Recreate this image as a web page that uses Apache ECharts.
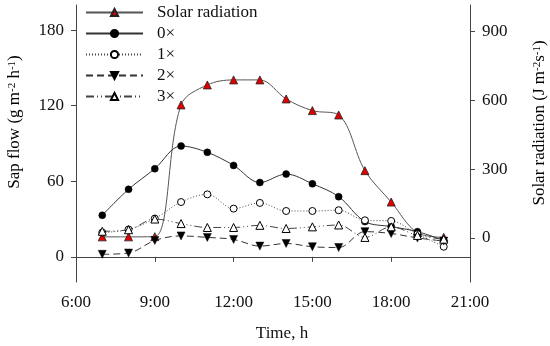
<!DOCTYPE html>
<html><head><meta charset="utf-8">
<script src="https://cdn.jsdelivr.net/npm/echarts@6/dist/echarts.min.js"></script>
<style>html,body{margin:0;padding:0;background:#fff}#c{width:550px;height:346px}</style>
</head><body><div id="c"></div>
<script>
var hours = [7, 8, 9, 10, 11, 12, 13, 14, 15, 16, 17, 18, 19, 20];
var solar = [4, 4, 5, 580, 667, 689, 689, 606, 555, 536, 293, 156, 22, 2];
var sap0 = [33, 53.6, 70, 88, 83, 72.6, 59, 65.7, 58, 47.8, 28, 24, 20, 13];
var sap1 = [19.3, 21.7, 30.4, 43.5, 49.6, 38.3, 42.8, 36.4, 36.4, 37, 29, 28.5, 18, 8];
var sap2 = [2, 3, 13, 16.6, 15.4, 13.8, 8.5, 10.6, 8, 7.4, 20, 18.5, 15, 12.5];
var sap3 = [20.3, 21.5, 30, 26.4, 23.3, 23.3, 25, 22.5, 23.8, 25.3, 15.4, 23.8, 17, 14];
var seriesNames = ['Solar radiation', '0\u00d7', '1\u00d7', '2\u00d7', '3\u00d7'];
var xTicks = [6, 9, 12, 15, 18, 21];
var leftTicks = [0, 60, 120, 180];
var rightTicks = [0, 300, 600, 900];

var FONT = '"Liberation Serif", serif';
function pairs(v) { return hours.map(function (h, i) { return [h, v[i]]; }); }
var axisCol = '#444';
var chart = echarts.init(document.getElementById('c'));
var rich = { n: { fontSize: 17, fontFamily: FONT, color: '#111' }, s: { fontSize: 11, fontFamily: FONT, color: '#111', verticalAlign: 'top', padding: [0, 0, 6, 0] } };
chart.setOption({
  animation: false,
  grid: { left: 76, right: 80, top: 5, bottom: 64 },
  legend: {
    left: 85, top: 4, padding: 0, orient: 'vertical', itemWidth: 57, itemHeight: 9, itemGap: 4,
    data: seriesNames,
    textStyle: { fontFamily: FONT, fontSize: 17, color: '#111', padding: [0, 0, 0, 9] }
  },
  xAxis: {
    type: 'value', min: 6, max: 21, interval: 3,
    axisLine: { lineStyle: { color: axisCol } },
    axisTick: { length: 5, lineStyle: { color: axisCol } },
    splitLine: { show: false },
    axisLabel: { margin: 12, fontFamily: FONT, fontSize: 17, color: '#111', formatter: function (v) { return v + ':00'; } }
  },
  yAxis: [{
    type: 'value', min: -20, max: 200,
    axisLine: { show: true, lineStyle: { color: axisCol } },
    axisTick: { show: true, length: 5, lineStyle: { color: axisCol }, customValues: leftTicks },
    splitLine: { show: false },
    axisLabel: { margin: 12, fontFamily: FONT, fontSize: 17, color: '#111', customValues: leftTicks }
  }, {
    type: 'value', min: -193, max: 1016, position: 'right',
    axisLine: { show: true, lineStyle: { color: axisCol } },
    axisTick: { show: true, length: 5, lineStyle: { color: axisCol }, customValues: rightTicks },
    splitLine: { show: false },
    axisLabel: { margin: 12, fontFamily: FONT, fontSize: 17, color: '#111', customValues: rightTicks }
  }],
  graphic: [
    { type: 'text', x: 15, y: 122, rotation: Math.PI / 2, style: { text: '{n|Sap flow (g m}{s|-2}{n| h}{s|-1}{n|)}', rich: rich, align: 'center', verticalAlign: 'middle' } },
    { type: 'text', x: 540, y: 123, rotation: Math.PI / 2, style: { text: '{n|Solar radiation (J m}{s|-2}{n|s}{s|-1}{n|)}', rich: rich, align: 'center', verticalAlign: 'middle' } },
    { type: 'text', x: 282, y: 334, style: { text: 'Time, h', font: '17px ' + FONT, fill: '#111', align: 'center', verticalAlign: 'middle' } }
  ],
  series: [
    { name: seriesNames[0], type: 'line', yAxisIndex: 1, data: pairs(solar), smooth: 0.35,
      symbol: 'triangle', symbolSize: 8, lineStyle: { color: '#555', width: 1 },
      itemStyle: { color: '#e00000', borderColor: '#222', borderWidth: 0.8 } },
    { name: seriesNames[1], type: 'line', data: pairs(sap0), smooth: 0.35,
      symbol: 'circle', symbolSize: 7, lineStyle: { color: '#333', width: 1 },
      itemStyle: { color: '#000', borderColor: '#000', borderWidth: 0.5 } },
    { name: seriesNames[2], type: 'line', data: pairs(sap1), smooth: 0.35,
      symbol: 'circle', symbolSize: 7, lineStyle: { color: '#444', width: 1, type: [1, 2] },
      itemStyle: { color: '#fff', borderColor: '#000', borderWidth: 1 } },
    { name: seriesNames[3], type: 'line', data: pairs(sap2), smooth: 0.35,
      symbol: 'triangle', symbolRotate: 180, symbolSize: 8, lineStyle: { color: '#333', width: 1, type: [7, 4] },
      itemStyle: { color: '#000', borderColor: '#000', borderWidth: 0.5 } },
    { name: seriesNames[4], type: 'line', data: pairs(sap3), smooth: 0.35,
      symbol: 'triangle', symbolSize: 8, lineStyle: { color: '#444', width: 1, type: [8, 3, 1, 3, 1, 3] },
      itemStyle: { color: '#fff', borderColor: '#000', borderWidth: 1 } }
  ]
});
</script></body></html>
